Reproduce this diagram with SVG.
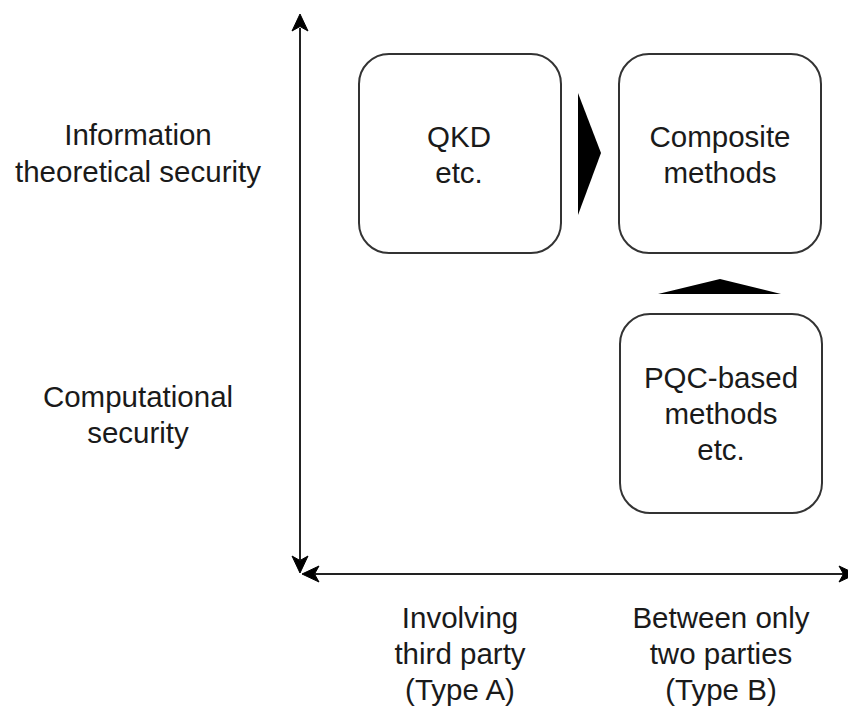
<svg xmlns="http://www.w3.org/2000/svg" width="848" height="707" viewBox="0 0 848 707">
  <style>
    .box { fill: #ffffff; stroke: #333333; stroke-width: 2; }
    .axis { fill: none; stroke: #222222; stroke-width: 2; }
    .head { fill: #000000; stroke: #000000; stroke-width: 1; stroke-linejoin: miter; }
    .flow { fill: #000000; stroke: none; }
    text { font-family: "Liberation Sans", Arial, Helvetica, sans-serif; font-size: 29.5px; fill: #1a1a1a; text-anchor: middle; }
  </style>
  <defs>
    <!-- classic arrowhead, tip at origin pointing +x -->
    <path id="tip" d="M0,0 L-17,-8 L-12.5,0 L-17,8 Z"/>
  </defs>

  <!-- axes -->
  <g id="connectors">
    <line class="axis" x1="300" y1="28" x2="300" y2="560"/>
    <line class="axis" x1="315" y1="574" x2="845" y2="574"/>
    <use href="#tip" class="head" transform="translate(300,14) rotate(-90)"/>
    <use href="#tip" class="head" transform="translate(300,573) rotate(90)"/>
    <use href="#tip" class="head" transform="translate(302,574) rotate(180)"/>
    <use href="#tip" class="head" transform="translate(856,574)"/>
    <!-- flow triangles between boxes -->
    <polygon class="flow" points="578,93 601,153 578,215"/>
    <polygon class="flow" points="658,294 720,279 781,294"/>
  </g>

  <!-- row labels -->
  <g id="label-its">
    <text x="138" y="145">Information</text>
    <text x="138" y="182">theoretical security</text>
  </g>
  <g id="label-cs">
    <text x="138" y="407">Computational</text>
    <text x="138" y="443">security</text>
  </g>

  <!-- column labels -->
  <g id="label-type-a">
    <text x="460" y="628">Involving</text>
    <text x="460" y="664">third party</text>
    <text x="460" y="700">(Type A)</text>
  </g>
  <g id="label-type-b">
    <text x="721" y="628">Between only</text>
    <text x="721" y="664">two parties</text>
    <text x="721" y="700">(Type B)</text>
  </g>

  <!-- nodes -->
  <g id="node-qkd">
    <rect class="box" x="359" y="54" width="202" height="199" rx="30" ry="30"/>
    <text x="459" y="147">QKD</text>
    <text x="459" y="183">etc.</text>
  </g>
  <g id="node-composite">
    <rect class="box" x="619" y="54" width="202" height="199" rx="30" ry="30"/>
    <text x="720" y="147">Composite</text>
    <text x="720" y="183">methods</text>
  </g>
  <g id="node-pqc">
    <rect class="box" x="620" y="314" width="202" height="199" rx="30" ry="30"/>
    <text x="721" y="388">PQC-based</text>
    <text x="721" y="424">methods</text>
    <text x="721" y="460">etc.</text>
  </g>
</svg>
